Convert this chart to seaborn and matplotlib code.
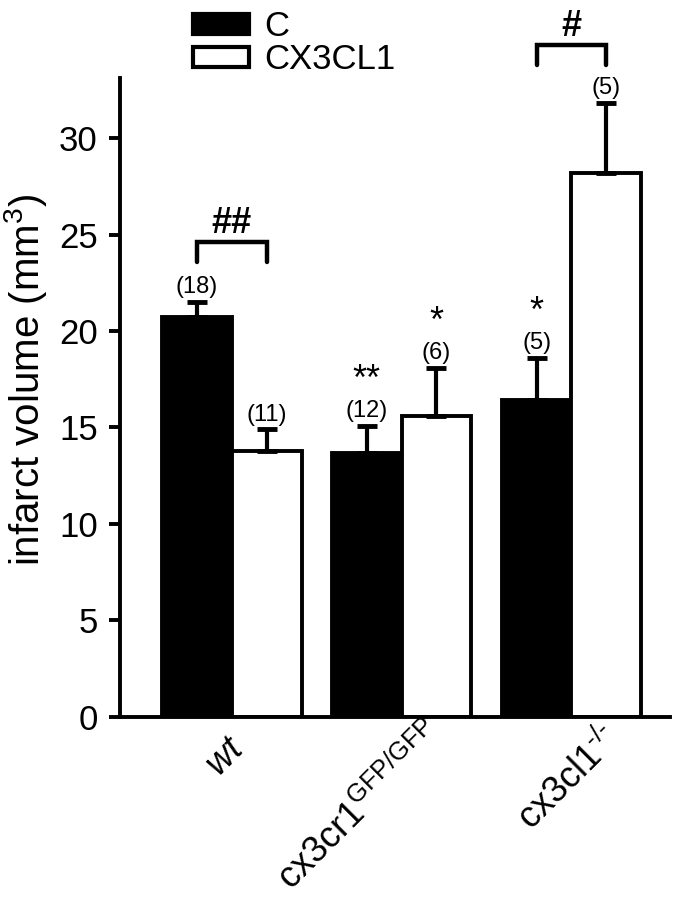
import numpy as np
import pandas as pd
import matplotlib
matplotlib.use("Agg")
import matplotlib.pyplot as plt
import matplotlib.transforms as mtransforms
import seaborn as sns

# values
genotypes = ["wt", "cx3cr1", "cx3cl1"]
tick_labels = [r"$\it{wt}$", r"cx3cr1$^{\text{GFP/GFP}}$", r"cx3cl1$^{\text{-/-}}$"]
treatments = ["C", "CX3CL1"]
mean_c = [20.7, 13.7, 16.4]
mean_cx = [13.8, 15.6, 28.2]
sem_c = [0.8, 1.4, 2.2]
sem_cx = [1.1, 2.5, 3.6]
n_c = ["(18)", "(12)", "(5)"]
n_cx = ["(11)", "(6)", "(5)"]
stars_c = ["", "**", "*"]
stars_cx = ["", "*", ""]

df = pd.DataFrame({
    "genotype": genotypes * 2,
    "treatment": ["C"] * 3 + ["CX3CL1"] * 3,
    "volume": mean_c + mean_cx,
})

sns.set_style("ticks", {"axes.edgecolor": "black", "text.color": "black",
                        "axes.labelcolor": "black", "xtick.color": "black",
                        "ytick.color": "black"})
plt.rcParams["font.family"] = ["Liberation Sans", "DejaVu Sans"]
plt.rcParams["mathtext.fontset"] = "custom"
plt.rcParams["mathtext.rm"] = "Liberation Sans"
plt.rcParams["mathtext.it"] = "Liberation Sans:italic"

fig = plt.figure(figsize=(6.85, 8.99), dpi=100)
ax = fig.add_axes([0.175, 0.2025, 0.803, 0.7105])

sns.barplot(data=df, x="genotype", y="volume", hue="treatment",
            hue_order=treatments, palette={"C": "black", "CX3CL1": "white"},
            width=0.82, gap=0, errorbar=None, edgecolor="black",
            linewidth=2.8, legend=True, ax=ax)

# upper error bars only, placed on the bars seaborn drew
bars_c = ax.containers[0]
bars_cx = ax.containers[1]
for bars, means, sems, ns, stars in [(bars_c, mean_c, sem_c, n_c, stars_c),
                                     (bars_cx, mean_cx, sem_cx, n_cx, stars_cx)]:
    xs = [b.get_x() + b.get_width() / 2 for b in bars]
    ax.errorbar(xs, means, yerr=[np.zeros(3), sems], fmt="none",
                ecolor="black", elinewidth=3, capsize=7, capthick=3.5, zorder=1)
    for x, m, s, n, st in zip(xs, means, sems, ns, stars):
        ax.text(x, m + s + 0.2, n, ha="center", va="bottom", fontsize=17)
        if st:
            ax.text(x, m + s + 1.45, st, ha="center", va="bottom", fontsize=26)

# significance brackets
def bracket(x0, x1, y_low, y_top, label):
    ax.plot([x0, x0, x1, x1], [y_low, y_top, y_top, y_low], color="black",
            lw=3.2, clip_on=False, solid_joinstyle="miter")
    ax.text((x0 + x1) / 2, y_top + 0.05, label, ha="center", va="bottom",
            fontsize=26, fontweight="bold", clip_on=False)

xc = [b.get_x() + b.get_width() / 2 for b in bars_c]
xx = [b.get_x() + b.get_width() / 2 for b in bars_cx]
bracket(xc[0], xx[0], 23.6, 24.6, "##")
bracket(xc[2], xx[2], 33.8, 34.8, "#")

ax.set_ylim(0, 33.1)
ax.set_xlim(-0.66, 2.58)
ax.set_yticks([0, 5, 10, 15, 20, 25, 30])
ax.tick_params(axis="y", labelsize=25, width=2.8, length=8, pad=8)
ax.tick_params(axis="x", length=0, pad=10)
ax.set_xticks(range(3))
ax.set_xticklabels(tick_labels, rotation=45, ha="right",
                   rotation_mode="anchor", fontsize=26)
# nudge the rotated labels (pixels) to sit where the reference has them
for lab, (dx, dy) in zip(ax.get_xticklabels(), [(-5, 0), (24, 14), (30, 10)]):
    lab.set_transform(lab.get_transform() +
                      mtransforms.ScaledTranslation(dx / 100, dy / 100, fig.dpi_scale_trans))
ax.set_xlabel("")
ax.set_ylabel(r"infarct volume (mm$^{3}$)", fontsize=29)
ax.yaxis.set_label_coords(-0.128, 0.528)
for side in ["left", "bottom"]:
    ax.spines[side].set_linewidth(2.8)
sns.despine(ax=ax)

handles, labels = ax.get_legend_handles_labels()
for h in handles:
    h.set_linewidth(3)
ax.legend(handles, labels, loc="upper left", bbox_to_anchor=(0.257, 1.008),
          bbox_transform=fig.transFigure, frameon=False, fontsize=25,
          handlelength=1.6, handleheight=0.52, handletextpad=0.45,
          labelspacing=0.0, borderpad=0)

fig.savefig("out.png", dpi=100)
